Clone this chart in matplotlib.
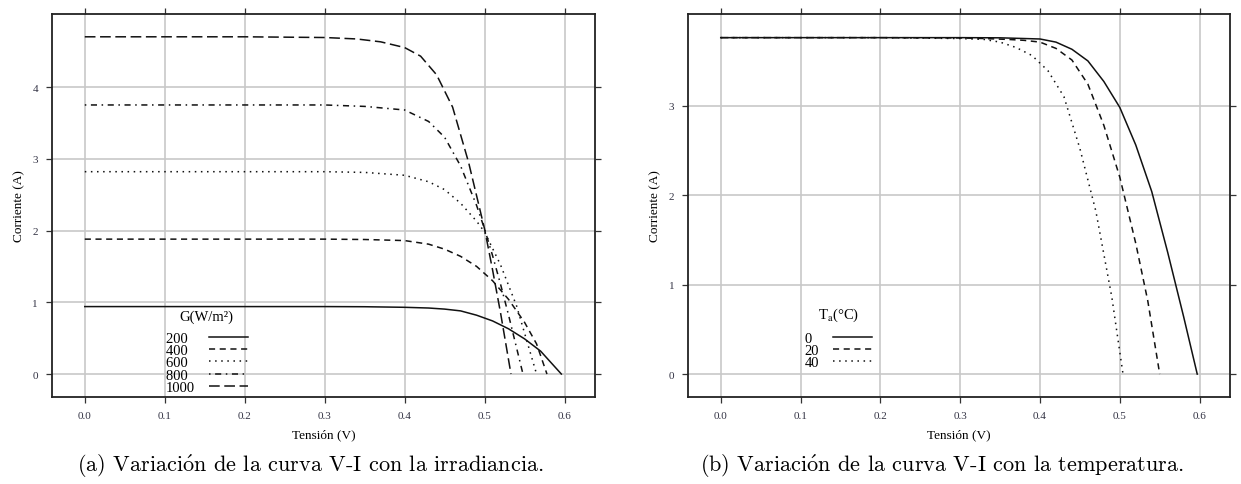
import matplotlib
matplotlib.use('Agg')
import matplotlib.pyplot as plt
import numpy as np

# (a) curves V-I for several irradiances G (W/m2)
v_200 = [0, 0.1, 0.2, 0.3, 0.35, 0.40, 0.43, 0.45, 0.47, 0.49, 0.51, 0.53, 0.55, 0.57, 0.596]
i_200 = [0.94, 0.94, 0.94, 0.94, 0.938, 0.93, 0.92, 0.905, 0.88, 0.82, 0.74, 0.63, 0.49, 0.32, 0.0]
v_400 = [0, 0.1, 0.2, 0.3, 0.35, 0.40, 0.43, 0.45, 0.47, 0.49, 0.51, 0.53, 0.55, 0.565, 0.578]
i_400 = [1.88, 1.88, 1.88, 1.88, 1.875, 1.86, 1.81, 1.74, 1.64, 1.50, 1.30, 1.04, 0.72, 0.42, 0.0]
v_600 = [0, 0.1, 0.2, 0.3, 0.35, 0.40, 0.43, 0.45, 0.47, 0.49, 0.50, 0.52, 0.54, 0.565]
i_600 = [2.82, 2.82, 2.82, 2.82, 2.81, 2.77, 2.68, 2.57, 2.38, 2.13, 1.98, 1.52, 0.95, 0.0]
v_800 = [0, 0.1, 0.2, 0.3, 0.35, 0.40, 0.43, 0.45, 0.47, 0.49, 0.50, 0.51, 0.52, 0.53, 0.548]
i_800 = [3.75, 3.75, 3.75, 3.75, 3.73, 3.68, 3.52, 3.30, 2.90, 2.35, 2.02, 1.65, 1.25, 0.82, 0.0]
v_1000 = [0, 0.1, 0.2, 0.3, 0.34, 0.37, 0.40, 0.42, 0.44, 0.46, 0.48, 0.50, 0.51, 0.52, 0.533]
i_1000 = [4.70, 4.70, 4.70, 4.69, 4.67, 4.63, 4.55, 4.43, 4.17, 3.72, 2.95, 2.02, 1.45, 0.85, 0.0]
g_labels = ['200', '400', '600', '800', '1000']

# (b) curves V-I for several ambient temperatures Ta (C)
v_t0 = [0, 0.1, 0.2, 0.3, 0.35, 0.40, 0.42, 0.44, 0.46, 0.48, 0.50, 0.52, 0.54, 0.56, 0.58, 0.597]
i_t0 = [3.76, 3.76, 3.76, 3.76, 3.758, 3.745, 3.71, 3.63, 3.50, 3.27, 2.98, 2.56, 2.04, 1.36, 0.64, 0.0]
v_t20 = [0, 0.1, 0.2, 0.3, 0.33, 0.36, 0.38, 0.40, 0.42, 0.44, 0.46, 0.48, 0.50, 0.52, 0.535, 0.550]
i_t20 = [3.76, 3.76, 3.76, 3.757, 3.75, 3.74, 3.73, 3.71, 3.64, 3.51, 3.24, 2.78, 2.20, 1.46, 0.82, 0.0]
v_t40 = [0, 0.1, 0.2, 0.3, 0.33, 0.35, 0.37, 0.39, 0.41, 0.43, 0.45, 0.47, 0.49, 0.504]
i_t40 = [3.76, 3.76, 3.76, 3.75, 3.74, 3.71, 3.65, 3.56, 3.39, 3.10, 2.52, 1.82, 0.86, 0.0]
t_labels = ['0', '20', '40']

x_ticks = [0.0, 0.1, 0.2, 0.3, 0.4, 0.5, 0.6]

# R-like line types: solid, dashed, dotted, dotdash, longdash
line_types = ['-', (0, (4, 3)), (0, (1, 3)), (0, (1, 3, 4, 3)), (0, (7, 3))]

SERIF = ['Liberation Serif', 'DejaVu Serif']
plt.rcParams['mathtext.fontset'] = 'stix'


def style_axes(ax, ylim, yticks):
    ax.set_xlim(-0.041, 0.638)
    ax.set_ylim(*ylim)
    ax.set_xticks(x_ticks)
    ax.set_xticklabels([f'{t:.1f}' for t in x_ticks], family=SERIF)
    ax.set_yticks(yticks)
    ax.set_yticklabels([str(t) for t in yticks], family=SERIF)
    ax.grid(True, color='#c8c8c8', lw=1.2)
    ax.set_axisbelow(True)
    ax.tick_params(direction='out', length=4.5, width=0.9, top=True, right=True,
                   labelsize=8, colors='#333333', labelcolor='#333344', pad=5.5)
    for sp in ax.spines.values():
        sp.set_linewidth(1.3)
        sp.set_color('#222222')
    ax.set_xlabel('Tensión (V)', family=SERIF, fontsize=9.5, labelpad=6)
    ax.set_ylabel('Corriente (A)', family=SERIF, fontsize=9.5, labelpad=5)


def add_legend(ax, title, labels, anchor):
    width = max(len(s) for s in labels)
    padded = [s + '\u2007' * (width - len(s)) for s in labels]
    leg = ax.legend(ax.get_lines(), padded, title=title, loc='upper left',
                    bbox_to_anchor=anchor, frameon=False, markerfirst=False,
                    handlelength=2.65, handletextpad=0.95, labelspacing=-0.06,
                    borderpad=0, borderaxespad=0,
                    prop={'family': SERIF, 'size': 10.5},
                    title_fontproperties={'family': SERIF, 'size': 10.5})
    # a bit more room between title and entries
    leg._legend_box.sep = 6
    return leg


fig = plt.figure(figsize=(12.41, 4.85), dpi=100)
ax1 = fig.add_axes([0.0419, 0.1794, 0.4375, 0.790])
ax2 = fig.add_axes([0.5544, 0.1794, 0.4367, 0.790])

# panel (a)
g_v = [v_200, v_400, v_600, v_800, v_1000]
g_i = [i_200, i_400, i_600, i_800, i_1000]
for v, i, ls in zip(g_v, g_i, line_types):
    ax1.plot(v, i, color='#111111', lw=1.1, linestyle=ls)
style_axes(ax1, (-0.32, 5.02), [0, 1, 2, 3, 4])
add_legend(ax1, 'G(W/m²)', g_labels, (0.21, 0.228))

# panel (b)
t_v = [v_t0, v_t20, v_t40]
t_i = [i_t0, i_t20, i_t40]
for v, i, ls in zip(t_v, t_i, line_types):
    ax2.plot(v, i, color='#111111', lw=1.1, linestyle=ls)
style_axes(ax2, (-0.256, 4.026), [0, 1, 2, 3])
add_legend(ax2, 'T$_\\mathrm{a}$(°C)', t_labels, (0.215, 0.238))

fig.text(0.25, 0.038, '(a) Variaci$\\acute{\\mathrm{o}}$n de la curva V-I con la irradiancia.',
         ha='center', va='center', fontsize=16, family='cmr10', math_fontfamily='cm')
fig.text(0.759, 0.038, '(b) Variaci$\\acute{\\mathrm{o}}$n de la curva V-I con la temperatura.',
         ha='center', va='center', fontsize=16, family='cmr10', math_fontfamily='cm')

plt.savefig('out.png', dpi=100)
plt.close()
